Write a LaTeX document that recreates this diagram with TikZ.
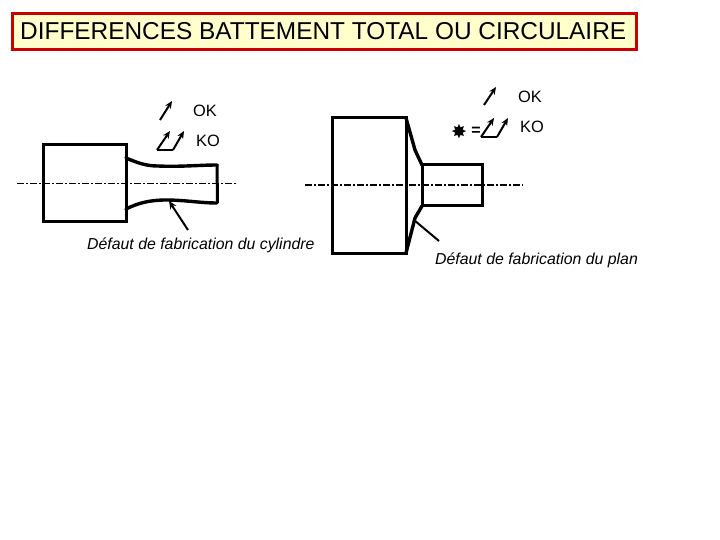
\documentclass[tikz,border=0pt]{standalone}
\usepackage{fontspec}
\setmainfont{Liberation Sans}
\newfontfamily\symfont{DejaVu Sans}
\usetikzlibrary{arrows.meta}
\definecolor{titlefill}{RGB}{255,255,204}
\definecolor{titleline}{RGB}{204,0,0}
\tikzset{
  x=1pt,y=-1pt,
  titlebox/.style={draw=titleline,fill=titlefill,line width=3pt,minimum width=624pt,minimum height=36pt,inner sep=0pt},
  titletext/.style={font=\fontsize{24.4pt}{28pt}\selectfont,inner sep=0pt,anchor=west},
  part/.style={draw=black,line width=3pt,line join=miter},
  curveline/.style={draw=black,line width=3.4pt,line cap=round},
  axisline/.style={draw=black,line width=1.2pt,dash pattern=on 7pt off 2pt on 2pt off 2pt},
  symarrow/.style={draw=black,line width=2pt,-{Stealth[length=7.5pt,width=6.5pt]}},
  symbase/.style={draw=black,line width=1.6pt},
  defectarrow/.style={draw=black,line width=2pt,-{Stealth[length=8pt,width=7pt]}},
  defectline/.style={draw=black,line width=2pt},
  symtext/.style={font=\fontsize{16.4pt}{18pt}\selectfont,inner sep=0pt},
  notetext/.style={font=\fontsize{15.85pt}{18pt}\itshape\selectfont,inner sep=0pt,anchor=west},
}
\begin{document}
\begin{tikzpicture}
\useasboundingbox (0,0) rectangle (720,540);
% title
\node[titlebox] (title) at (324.5,31.5) {};
\node[titletext] (titlelabel) at (20,31.5) {DIFFERENCES BATTEMENT TOTAL OU CIRCULAIRE};
% left part
\draw[part] (43,145) rectangle (126,222);
\draw[curveline] (126,158) .. controls (138,163) and (146,166) .. (158,166) .. controls (180,167) and (200,165) .. (217,165);
\draw[part] (217,164) -- (217.5,203);
\draw[curveline] (126,209) .. controls (138,203) and (150,200) .. (166,200) .. controls (185,200) and (200,203) .. (217,203);
\coordinate (la) at (17,183.5); \coordinate (lb) at (236,183.5);
\draw[axisline] (la) -- (lb);
\coordinate (lok1) at (160,120); \coordinate (lok2) at (172,101);
\draw[symarrow] (lok1) -- (lok2);
\node[symtext] (okl) at (205,111) {OK};
\coordinate (lk0) at (157,150); \coordinate (lk1) at (173,150);
\coordinate (lk2) at (170,131); \coordinate (lk3) at (184,131);
\draw[symbase] (lk1) -- (lk0);
\draw[symarrow] (lk0) -- (lk2);
\draw[symarrow] (lk1) -- (lk3);
\node[symtext] (kol) at (208,141) {KO};
\node[notetext] (defl) at (87,245) {Défaut de fabrication du cylindre};
\coordinate (ld0) at (188,230); \coordinate (ld1) at (169,201);
\draw[defectarrow] (ld0) -- (ld1);
% right part
\draw[part] (332,118) rectangle (406,253);
\draw[part] (422,165) rectangle (482,206);
\draw[curveline] (406,118) -- (415,150) -- (422,165);
\draw[curveline] (406,253) -- (415,218) -- (422,206);
\coordinate (ra) at (305,185); \coordinate (rb) at (523,185);
\draw[axisline] (ra) -- (rb);
\coordinate (rok1) at (484,105); \coordinate (rok2) at (496,87);
\draw[symarrow] (rok1) -- (rok2);
\node[symtext] (okr) at (530,97) {OK};
\node[font=\symfont\fontsize{19pt}{19pt}\selectfont,inner sep=0pt] (star) at (459,132) {✸};
\node[font=\fontsize{16pt}{18pt}\bfseries\selectfont,inner sep=0pt] (eq) at (476,131.5) {=};
\coordinate (rk0) at (481,137); \coordinate (rk1) at (497,137);
\coordinate (rk2) at (494,118); \coordinate (rk3) at (508,118);
\draw[symbase] (rk1) -- (rk0);
\draw[symarrow] (rk0) -- (rk2);
\draw[symarrow] (rk1) -- (rk3);
\node[symtext] (kor) at (532,127) {KO};
\node[notetext] (defr) at (435,260) {Défaut de fabrication du plan};
\coordinate (rd0) at (439,241); \coordinate (rd1) at (414,220);
\draw[defectline] (rd0) -- (rd1);
\end{tikzpicture}
\end{document}
